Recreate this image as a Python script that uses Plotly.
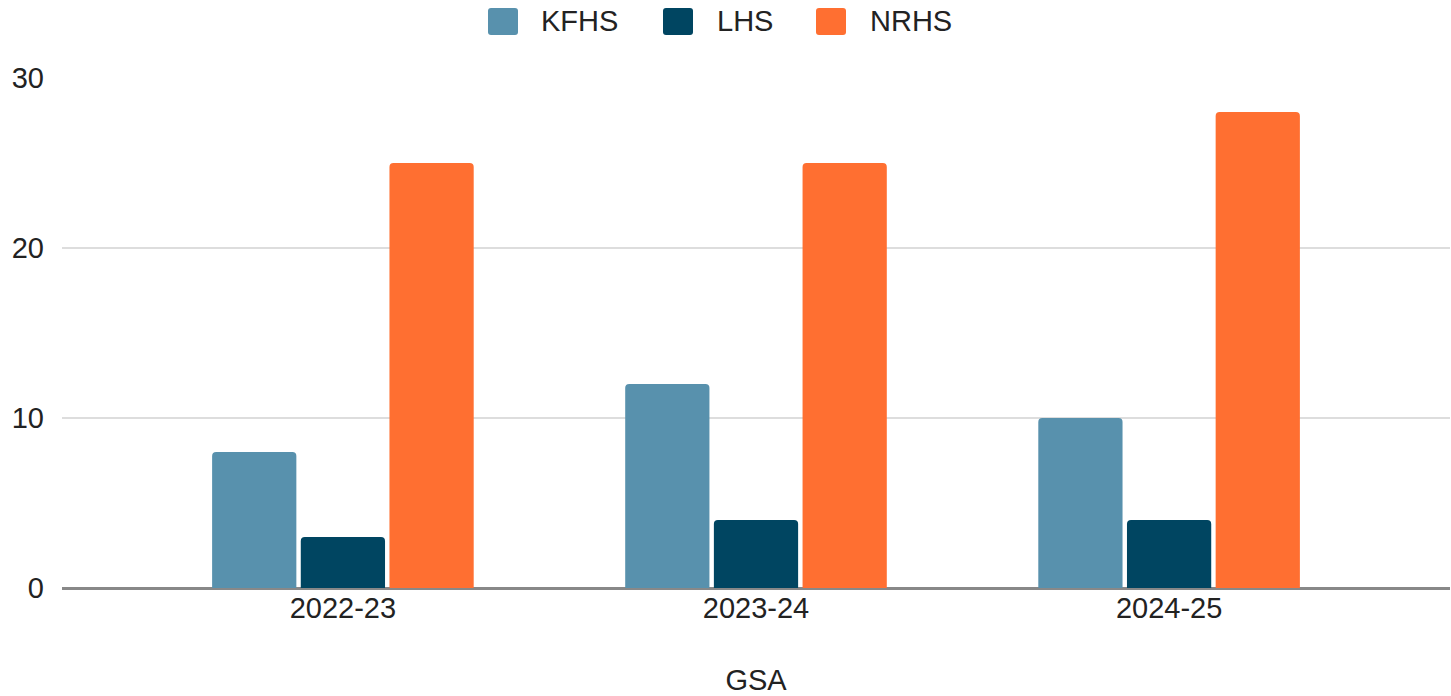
import plotly.graph_objects as go

categories = ["2022-23", "2023-24", "2024-25"]
kfhs = [8, 12, 10]
lhs = [3, 4, 4]
nrhs = [25, 25, 28]
series_names = ["KFHS", "LHS", "NRHS"]
colors = ["#5891ad", "#004561", "#ff6f31"]

W, H = 1451, 696
L, T, R, B = 62, 78, 1, 108
pw, ph = W - L - R, H - T - B

fig = go.Figure()
for name, vals, col in zip(series_names, [kfhs, lhs, nrhs], colors):
    fig.add_trace(go.Bar(x=categories, y=vals, name=name, marker_color=col,
                         marker_line_width=0, showlegend=False))

def px_x(px):
    return (px - L) / pw

def px_y(py):
    return (H - B - py) / ph

def rounded_rect(x0, y0, x1, y1, r):
    # pixel coords -> paper coords path with rounded corners
    rx, ry = r / pw, r / ph
    a, b, c, d = px_x(x0), px_y(y0), px_x(x1), px_y(y1)
    return (f"M{a+rx},{b} L{c-rx},{b} Q{c},{b} {c},{b-ry} L{c},{d+ry} Q{c},{d} {c-rx},{d} "
            f"L{a+rx},{d} Q{a},{d} {a},{d+ry} L{a},{b-ry} Q{a},{b} {a+rx},{b} Z")

# manual legend (swatch pixel x start, label pixel x start)
legend_pos = [(488, 539), (663, 715), (816, 868)]
for name, col, (sx, tx) in zip(series_names, colors, legend_pos):
    fig.add_shape(type="path", xref="paper", yref="paper",
                  path=rounded_rect(sx, 8, sx + 30, 35, 3),
                  fillcolor=col, line=dict(width=0), layer="above")
    fig.add_annotation(x=px_x(tx), y=px_y(21), xref="paper", yref="paper",
                       text=name, showarrow=False, xanchor="left", yanchor="middle",
                       font=dict(size=29, color="#222222"))

font = "Liberation Sans, Arial, sans-serif"
fig.update_layout(
    width=W, height=H,
    margin=dict(l=L, r=R, t=T, b=B, autoexpand=False),
    paper_bgcolor="white", plot_bgcolor="white",
    barmode="group", bargap=0.356, bargroupgap=0.05,
    barcornerradius=4,
    font=dict(family=font, size=29, color="#222222"),
    showlegend=False,
    xaxis=dict(range=[-0.68, 2.68], showgrid=False, ticks="", showline=False,
               tickfont=dict(size=29, color="#222222"),
               title=dict(text="GSA", font=dict(size=29, color="#222222"), standoff=46)),
    yaxis=dict(range=[0, 30], tickvals=[0, 10, 20, 30], showgrid=True,
               gridcolor="#dddddd", gridwidth=1.5, zeroline=True, zerolinecolor="#888888",
               zerolinewidth=2.5, ticks="", ticklabelstandoff=17,
               tickfont=dict(size=29, color="#222222")),
)
fig.write_html("out.html", config={"displayModeBar": False},
               post_script="document.body.style.margin='0';document.body.style.overflow='hidden';")
